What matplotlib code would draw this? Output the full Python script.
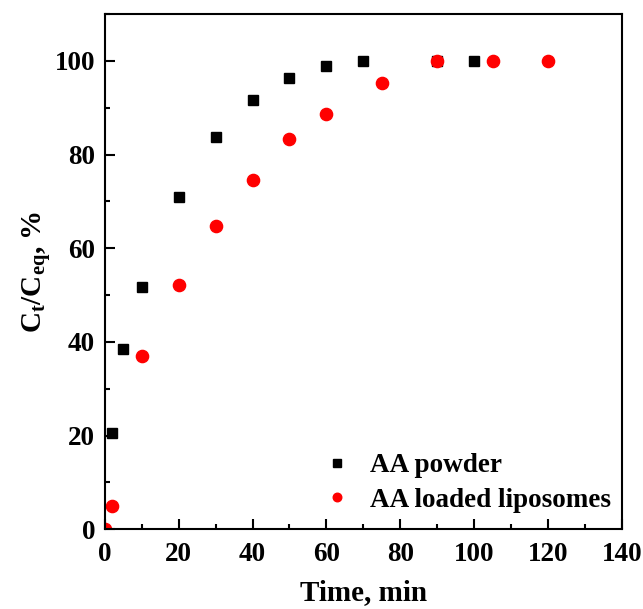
import matplotlib
matplotlib.use("Agg")
import matplotlib.pyplot as plt
from matplotlib.ticker import MultipleLocator

plt.rcParams['font.family'] = ['Liberation Serif', 'DejaVu Serif']
plt.rcParams['font.weight'] = 'bold'
plt.rcParams['mathtext.fontset'] = 'custom'
plt.rcParams['mathtext.rm'] = 'Liberation Serif:bold'
plt.rcParams['mathtext.bf'] = 'Liberation Serif:bold'
plt.rcParams['mathtext.it'] = 'Liberation Serif:bold'

powder_t = [2, 5, 10, 20, 30, 40, 50, 60, 70, 90, 100]
powder_c = [20.5, 38.5, 51.8, 71.0, 83.8, 91.7, 96.3, 99.0, 100, 100, 100]
lipo_t = [0, 2, 10, 20, 30, 40, 50, 60, 75, 90, 105, 120]
lipo_c = [0, 5.0, 37.0, 52.1, 64.8, 74.5, 83.3, 88.7, 95.3, 100, 100, 100]

fig = plt.figure(figsize=(6.43, 6.09), dpi=100)
ax = fig.add_axes([0.163, 0.131, 0.804, 0.846])
ax.plot(powder_t, powder_c, 's', color='black', markersize=7.8, label='AA powder', linestyle='none')
ax.plot(lipo_t, lipo_c, 'o', color='red', markersize=8.8, label='AA loaded liposomes', linestyle='none')

ax.set_xlim(0, 140)
ax.set_ylim(0, 110)
ax.xaxis.set_major_locator(MultipleLocator(20))
ax.xaxis.set_minor_locator(MultipleLocator(10))
ax.yaxis.set_major_locator(MultipleLocator(20))
ax.yaxis.set_minor_locator(MultipleLocator(10))
ax.tick_params(which='both', direction='in', top=False, right=False, labelsize=19.5, width=1.5)
ax.tick_params(which='major', length=7)
ax.tick_params(which='minor', length=3.5)
ax.tick_params(axis='x', which='major', pad=9)
ax.tick_params(axis='y', which='major', pad=7)
for s in ax.spines.values():
    s.set_linewidth(1.5)
for lab in ax.get_xticklabels() + ax.get_yticklabels():
    lab.set_fontweight('bold')

ax.set_xlabel('Time, min', fontsize=21, fontweight='bold', labelpad=9)
ax.set_ylabel(r'C$_\mathbf{t}$/C$_\mathbf{eq}$, %', fontsize=21, fontweight='bold', labelpad=1)

leg = ax.legend(loc='lower right', bbox_to_anchor=(1.0, 0.011), frameon=False,
                handletextpad=0.8, handlelength=0.8,
                labelspacing=0.35, borderaxespad=0.0, markerscale=0.7,
                prop={'weight': 'bold', 'size': 19.5})

fig.savefig('out.png', dpi=100)
